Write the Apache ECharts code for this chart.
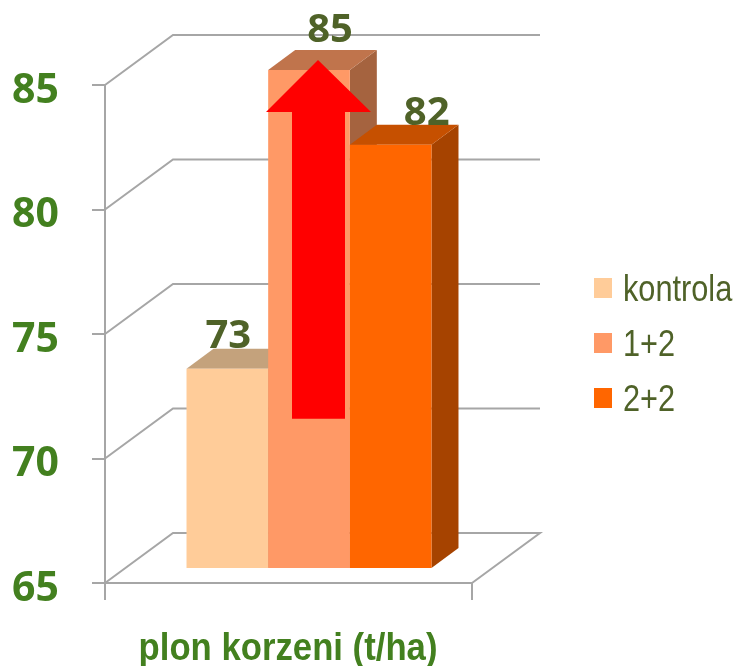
<!DOCTYPE html>
<html>
<head>
<meta charset="utf-8">
<title>plon korzeni</title>
<script src="https://cdn.jsdelivr.net/npm/echarts@6/dist/echarts.min.js"></script>
<style>
    html, body {margin: 0; padding: 0; background: #fff;}
    #chart {width: 736px; height: 666px;}
</style>
</head>
<body>
<div id="chart"></div>
<script>
var categories = ['plon korzeni (t/ha)'];
var seriesNames = ['kontrola', '1+2', '2+2'];
var kontrola = [73];
var jedenDwa = [85];
var dwaDwa = [82];
var tickValues = [65, 70, 75, 80, 85];
var arrowRange = [71.6, 86];

var faces = [
    {front: '#FFCC99', top: '#C4A27C', side: '#B89470', shiftX: 1, shiftY: 4},
    {front: '#FF9966', top: '#C0744C', side: '#A5633F', shiftX: 21, shiftY: -3},
    {front: '#FF6600', top: '#C65000', side: '#A64300', shiftX: 36, shiftY: 5}
];
var GREY = '#A6A6A6';
var GREEN = '#43801F';
var OLIVE = '#4F6228';
var DEPTH_X = 68, DEPTH_Y = 50;

// ściany wykresu: linie z osi do tylnej ściany
function renderWall(params, api) {
    var p = api.coord([0, api.value(0)]);
    var band = api.size([1, 0])[0];
    var left = p[0] - band / 2, right = p[0] + band / 2;
    var pts = [[left, p[1]], [left + DEPTH_X, p[1] - DEPTH_Y], [right + DEPTH_X, p[1] - DEPTH_Y]];
    if (api.value(0) === tickValues[0]) {
        pts.push([right, p[1]]);
    }
    return {
        type: 'polyline',
        shape: {points: pts},
        style: {fill: null, stroke: GREY, lineWidth: 2}
    };
}

function barRenderer(idx) {
    return function (params, api) {
        var band = api.size([1, 0])[0];
        var w = band * 0.2225, dx = 27, dy = 20;
        var top = api.coord([0, api.value(0)]);
        var base = api.coord([0, tickValues[0]]);
        var x0 = top[0] - 1.5 * w + 20.5 + idx * w;
        var y0 = top[1] - 15, y1 = base[1] - 15;
        var f = faces[idx];
        return {
            type: 'group',
            children: [
                {type: 'polygon', shape: {points: [[x0 + w, y0], [x0 + w + dx, y0 - dy], [x0 + w + dx, y1 - dy], [x0 + w, y1]]}, style: {fill: f.side}},
                {type: 'polygon', shape: {points: [[x0, y0], [x0 + dx, y0 - dy], [x0 + w + dx, y0 - dy], [x0 + w, y0]]}, style: {fill: f.top}},
                {type: 'rect', shape: {x: x0, y: y0, width: w, height: y1 - y0}, style: {fill: f.front}},
                {
                    type: 'text',
                    z2: 10,
                    style: {
                        text: String(api.value(0)),
                        x: x0 + w / 2 + f.shiftX,
                        y: y0 - 36 + f.shiftY,
                        align: 'center',
                        verticalAlign: 'middle',
                        fill: OLIVE,
                        font: 'bold 40px "Open Sans"'
                    }
                }
            ]
        };
    };
}

function renderArrow(params, api) {
    var tip = api.coord([0, api.value(1)]);
    var end = api.coord([0, api.value(0)]);
    var x = tip[0] + 29.5, neck = tip[1] + 52;
    return {
        type: 'polygon',
        shape: {
            points: [[x, tip[1]], [x + 53, neck], [x + 27, neck], [x + 27, end[1]],
                [x - 26, end[1]], [x - 26, neck], [x - 52, neck]]
        },
        style: {fill: '#FF0000'}
    };
}

var barValues = [kontrola, jedenDwa, dwaDwa];
var series = [{
    type: 'custom',
    silent: true,
    z: 1,
    renderItem: renderWall,
    data: tickValues.map(function (v) { return [v]; }),
    encode: {y: 0}
}];
seriesNames.forEach(function (name, i) {
    series.push({
        name: name,
        type: 'custom',
        z: 2 + i,
        itemStyle: {color: faces[i].front},
        renderItem: barRenderer(i),
        data: barValues[i].map(function (v) { return [v]; }),
        encode: {y: 0}
    });
});
series.push({
    type: 'custom',
    silent: true,
    z: 10,
    renderItem: renderArrow,
    data: [arrowRange],
    encode: {y: [0, 1]}
});

// nie ma Arial Narrow, wiec napisy sa zwezane przez scaleX
function narrowText(text, x, y, font, color, align, scale) {
    return {
        type: 'text',
        x: x,
        y: y,
        scaleX: scale,
        style: {text: text, align: align, verticalAlign: 'middle', font: font, fill: color}
    };
}
var labels = seriesNames.map(function (name, i) {
    return narrowText(name, 623, 291 + i * 55, '37px "Liberation Sans"', OLIVE, 'left', 0.83);
});
labels.push(narrowText(categories[0], 288, 649, 'bold 39px "Liberation Sans"', GREEN, 'center', 0.89));

var e = echarts.init(document.getElementById('chart'), null, {renderer: 'canvas'});
e.setOption({
    animation: false,
    backgroundColor: '#fff',
    grid: {left: 105, right: 264, top: 85, bottom: 83, outerBoundsMode: 'none'},
    legend: {
        data: seriesNames,
        orient: 'vertical',
        left: 594,
        top: 278,
        padding: 0,
        icon: 'rect',
        itemWidth: 18,
        itemHeight: 20,
        itemGap: 35,
        formatter: function () { return ''; }
    },
    graphic: labels,
    xAxis: {
        type: 'category',
        data: categories,
        axisLine: {lineStyle: {color: GREY, width: 2}},
        axisTick: {show: true, alignWithLabel: false, length: 17, lineStyle: {color: GREY, width: 2}},
        axisLabel: {show: false}
    },
    yAxis: {
        type: 'value',
        min: 65,
        max: 85,
        interval: 5,
        splitLine: {show: false},
        axisLine: {show: true, lineStyle: {color: GREY, width: 2}},
        axisTick: {show: true, length: 13, lineStyle: {color: GREY, width: 2}},
        axisLabel: {
            margin: 46,
            color: GREEN,
            fontFamily: 'Open Sans',
            fontWeight: 'bold',
            fontSize: 41,
            verticalAlign: 'top',
            lineHeight: 12
        }
    },
    series: series
});
window.onresize = function () {
    e.resize();
};
</script>
</body>
</html>
